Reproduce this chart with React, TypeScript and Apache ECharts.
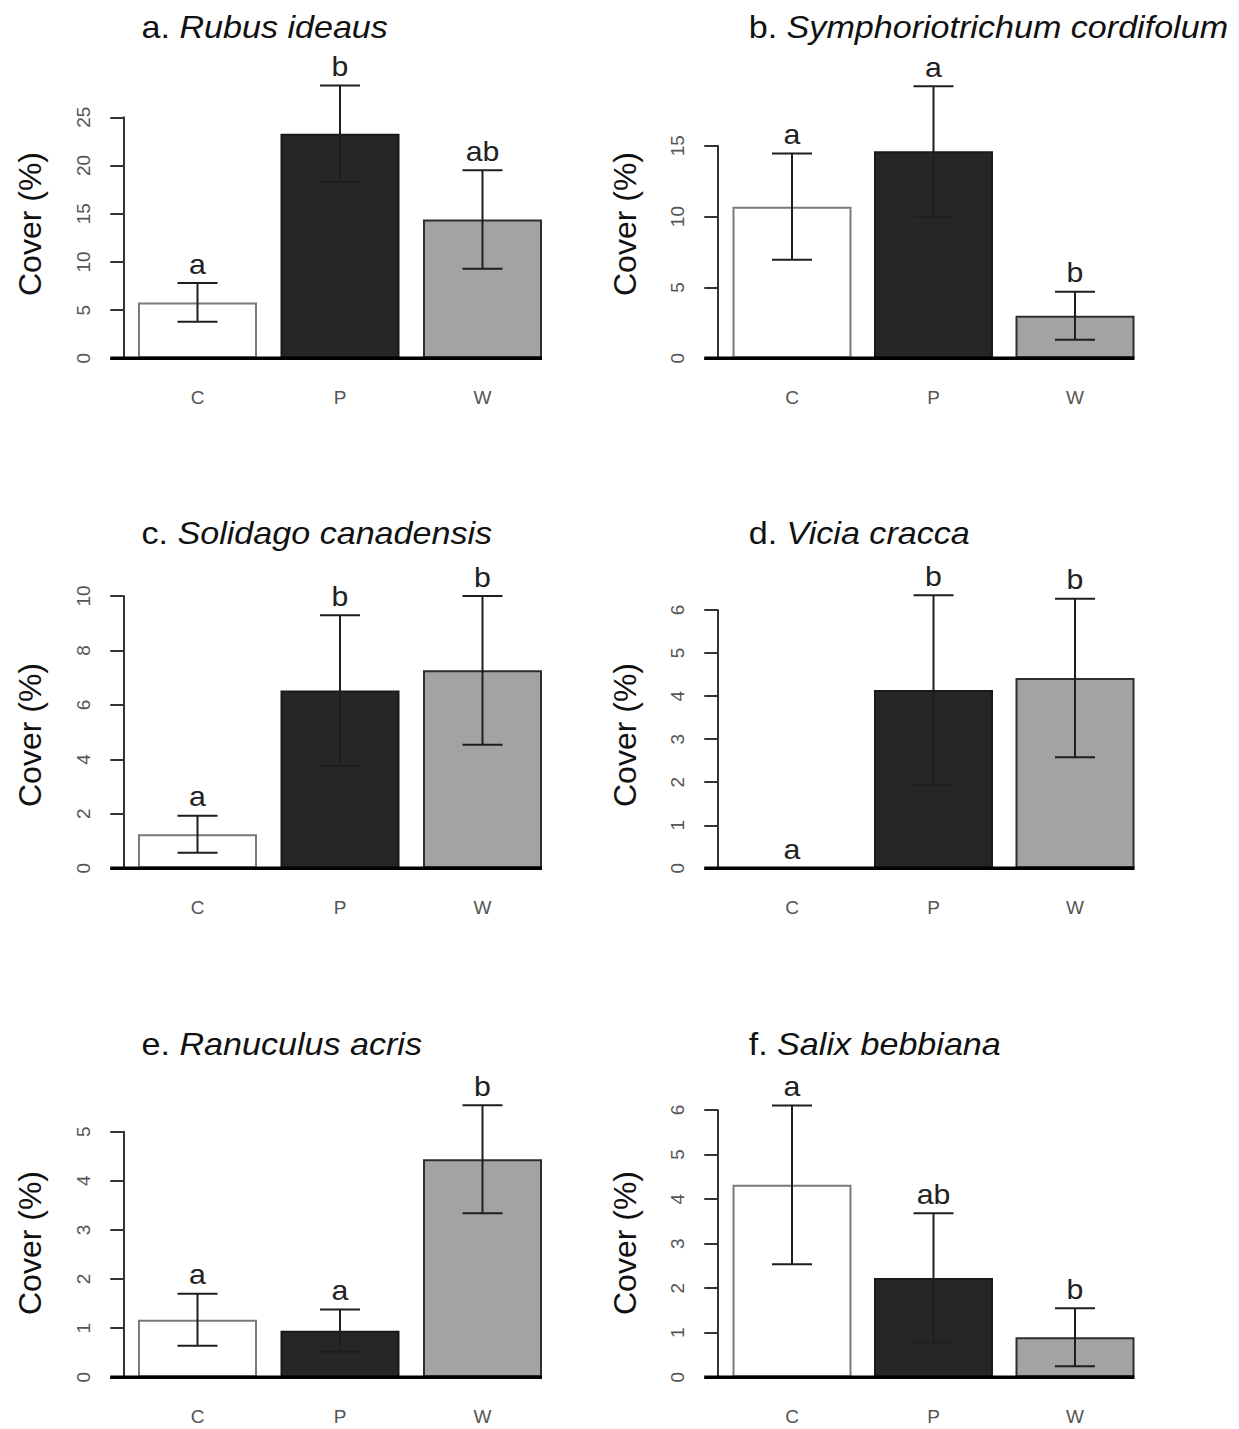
import React, { useEffect, useRef } from "react";
import * as echarts from "echarts";

// ---------- data ----------
const categories = ["C", "P", "W"];
const panelTags = ["a.", "b.", "c.", "d.", "e.", "f."];
const speciesNames = [
  "Rubus ideaus",
  "Symphoriotrichum cordifolum",
  "Solidago canadensis",
  "Vicia cracca",
  "Ranuculus acris",
  "Salix bebbiana",
];
const yAxisTitle = "Cover (%)";

const rubusMean = [5.8, 23.3, 14.4];
const rubusSE = [2.0, 5.0, 5.1];
const rubusLetters = ["a", "b", "ab"];

const symphMean = [10.7, 14.6, 3.0];
const symphSE = [3.75, 4.6, 1.7];
const symphLetters = ["a", "a", "b"];

const solidagoMean = [1.25, 6.53, 7.27];
const solidagoSE = [0.68, 2.76, 2.73];
const solidagoLetters = ["a", "b", "b"];

const viciaMean = [0, 4.14, 4.42];
const viciaSE = [0, 2.2, 1.84];
const viciaLetters = ["a", "b", "b"];

const ranunculusMean = [1.17, 0.95, 4.44];
const ranunculusSE = [0.53, 0.43, 1.1];
const ranunculusLetters = ["a", "a", "b"];

const salixMean = [4.32, 2.23, 0.9];
const salixSE = [1.78, 1.45, 0.65];
const salixLetters = ["a", "ab", "b"];

const yAxisMax = [25, 15, 10, 6, 5, 6];
const yAxisStep = [5, 5, 2, 1, 1, 1];

const barFill = ["#ffffff", "#262626", "#a3a3a3"];
const barBorder = ["#7a7a7a", "#1a1a1a", "#2e2e2e"];

const panelMeans = [rubusMean, symphMean, solidagoMean, viciaMean, ranunculusMean, salixMean];
const panelSE = [rubusSE, symphSE, solidagoSE, viciaSE, ranunculusSE, salixSE];
const panelLetters = [rubusLetters, symphLetters, solidagoLetters, viciaLetters, ranunculusLetters, salixLetters];

// ---------- layout ----------
const FONT = "'Liberation Sans', Arial, Helvetica, sans-serif";
const colLeft = [126.25, 721.25];
const colWidth = [427.5, 424.5];
const axisOffset = [3, 4];
const rowBottom = [358.3, 868.3, 1377.3];
const panelTop = [117.3, 145.7, 596, 610, 1131.7, 1110];
const titleX = [141.5, 748.7];
const titleY = [28, 534, 1045];
const ylabX = [30, 624.5];
const ylabY = [224, 735, 1243];
const BAR_W = 119;
const TICK_LEN = 13;
const CAP_HALF = 20;

function buildOption() {
  const grid: any[] = [];
  const xAxis: any[] = [];
  const yAxis: any[] = [];
  const series: any[] = [];
  const graphic: any[] = [];

  panelMeans.forEach((means, i) => {
    const col = i % 2;
    const row = Math.floor(i / 2);
    const se = panelSE[i];
    const letters = panelLetters[i];
    grid.push({
      left: colLeft[col],
      width: colWidth[col],
      top: panelTop[i],
      height: rowBottom[row] - panelTop[i],
    });
    xAxis.push({
      type: "category",
      gridIndex: i,
      data: categories,
      axisLine: { show: false },
      axisTick: { show: false },
      splitLine: { show: false },
      axisLabel: { margin: 30, fontSize: 19, color: "#555", fontFamily: FONT },
    });
    yAxis.push({
      type: "value",
      gridIndex: i,
      min: 0,
      max: yAxisMax[i],
      interval: yAxisStep[i],
      offset: axisOffset[col],
      axisLine: { show: true, lineStyle: { color: "#333", width: 2 } },
      axisTick: { show: true, length: TICK_LEN, lineStyle: { color: "#333", width: 2 } },
      splitLine: { show: false },
      axisLabel: { rotate: 90, margin: 30, fontSize: 19, color: "#555", fontFamily: FONT },
    });
    series.push({
      type: "bar",
      xAxisIndex: i,
      yAxisIndex: i,
      barWidth: BAR_W,
      z: 2,
      data: means.map((v, j) => ({
        value: v,
        itemStyle: { color: barFill[j], borderColor: barBorder[j], borderWidth: 2 },
      })),
    });
    const off = axisOffset[col];
    series.push({
      type: "custom",
      xAxisIndex: i,
      yAxisIndex: i,
      clip: false,
      z: 5,
      encode: { x: 0, y: 1 },
      data: means.map((m, j) => [j, m, se[j]]),
      renderItem: (params: any, api: any) => {
        const j = params.dataIndex;
        const m = api.value(1);
        const s = api.value(2);
        const hi = api.coord([j, m + s]);
        const lo = api.coord([j, m - s]);
        const cx = hi[0];
        const children: any[] = [];
        if (s > 0) {
          const st = { stroke: "#1e1e1e", lineWidth: 2 };
          children.push({ type: "line", shape: { x1: cx, y1: hi[1], x2: cx, y2: lo[1] }, style: st });
          children.push({ type: "line", shape: { x1: cx - CAP_HALF, y1: hi[1], x2: cx + CAP_HALF, y2: hi[1] }, style: st });
          children.push({ type: "line", shape: { x1: cx - CAP_HALF, y1: lo[1], x2: cx + CAP_HALF, y2: lo[1] }, style: st });
        }
        children.push({
          type: "text",
          x: cx,
          y: hi[1] - 19,
          scaleX: 1.08,
          style: {
            text: letters[j],
            x: 0,
            y: 0,
            align: "center",
            verticalAlign: "middle",
            fontSize: 28,
            fontFamily: FONT,
            fill: "#222",
          },
        });
        if (j === 0) {
          const cs = params.coordSys;
          const zeroY = api.coord([0, 0])[1];
          const rightX = api.coord([categories.length - 1, 0])[0] + BAR_W / 2;
          children.push({
            type: "line",
            shape: { x1: cs.x - off - TICK_LEN, y1: zeroY, x2: rightX, y2: zeroY },
            style: { stroke: "#000", lineWidth: 3.5 },
          });
        }
        return { type: "group", children };
      },
    });

    graphic.push({
      type: "text",
      x: titleX[col],
      y: titleY[row],
      scaleX: 1.1,
      style: {
        text: `{n|${panelTags[i]} }{i|${speciesNames[i]}}`,
        align: "left",
        verticalAlign: "middle",
        fontSize: 31,
        fontFamily: FONT,
        fill: "#111",
        rich: {
          n: { fontSize: 31, fontFamily: FONT, fill: "#111" },
          i: { fontSize: 31, fontFamily: FONT, fontStyle: "italic", fill: "#111" },
        },
      },
    });
    graphic.push({
      type: "text",
      x: ylabX[col],
      y: ylabY[row],
      rotation: Math.PI / 2,
      style: {
        text: yAxisTitle,
        align: "center",
        verticalAlign: "middle",
        fontSize: 32,
        fontFamily: FONT,
        fill: "#111",
      },
    });
  });

  return {
    animation: false,
    backgroundColor: "#ffffff",
    grid,
    xAxis,
    yAxis,
    series,
    graphic,
  };
}

export default function App() {
  const ref = useRef<HTMLDivElement>(null);
  useEffect(() => {
    if (!ref.current) return;
    const chart = echarts.init(ref.current, undefined, { renderer: "svg" });
    chart.setOption(buildOption() as any);
    return () => chart.dispose();
  }, []);
  return (
    <div
      ref={ref}
      style={{ position: "absolute", left: 0, top: 0, width: 1239, height: 1429 }}
    />
  );
}
